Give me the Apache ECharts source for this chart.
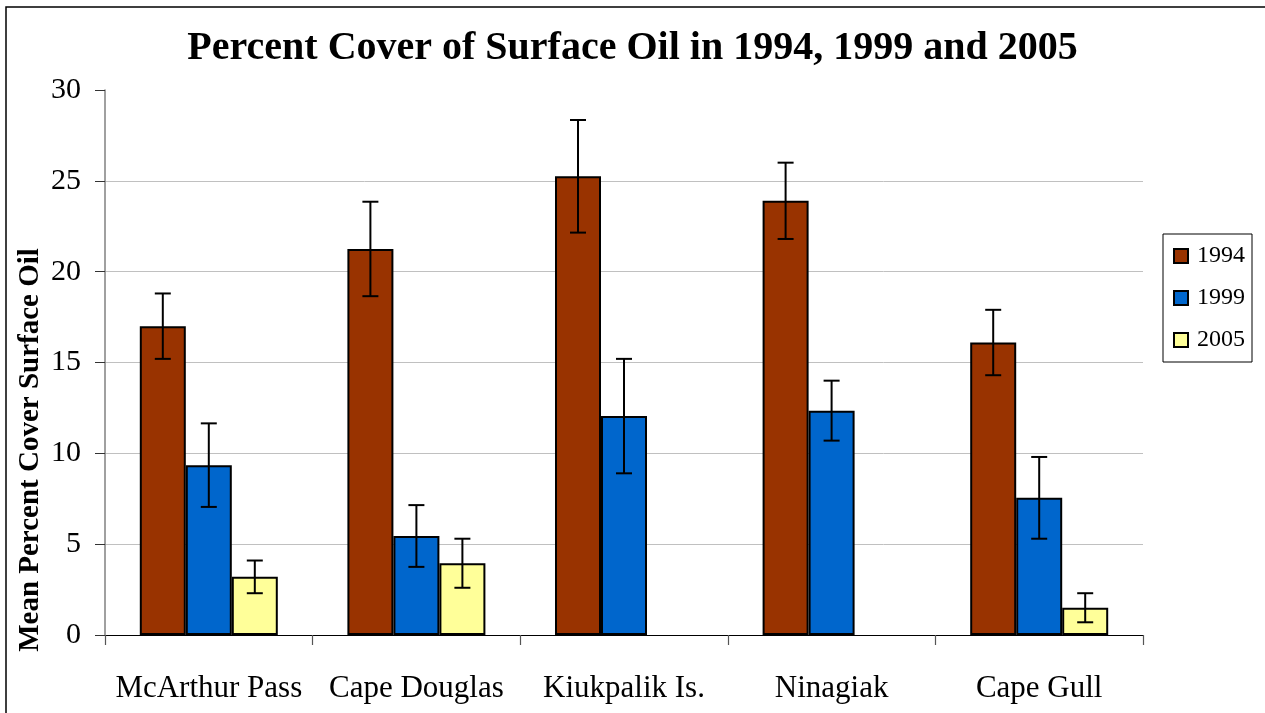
<!DOCTYPE html>
<html>
<head>
<meta charset="utf-8">
<script src="https://cdn.jsdelivr.net/npm/echarts@6/dist/echarts.min.js"></script>
<style>
  html, body { margin: 0; padding: 0; background: #fff; }
  #chart { width: 1265px; height: 713px; }
</style>
</head>
<body>
<div id="chart"></div>
<script>
// data
const categories = ['McArthur Pass', 'Cape Douglas', 'Kiukpalik Is.', 'Ninagiak', 'Cape Gull']
const years = ['1994', '1999', '2005']
const mean1994 = [17.0, 21.25, 25.25, 23.9, 16.1]
const err1994 = [1.8, 2.6, 3.1, 2.1, 1.8]
const mean1999 = [9.35, 5.45, 12.05, 12.35, 7.55]
const err1999 = [2.3, 1.7, 3.15, 1.65, 2.25]
const mean2005 = [3.2, 3.95, null, null, 1.5]
const err2005 = [0.9, 1.35, null, null, 0.8]
const yTicks = [0, 5, 10, 15, 20, 25, 30]

const serif = "'Liberation Serif', 'Times New Roman', serif"
const colors = ['#993300', '#0066CC', '#FFFF99']
const barW = 46

function barSeries (name, values, color) {
  return {
    name: name,
    type: 'bar',
    barWidth: barW,
    barGap: '0%',
    data: values.map(v => v == null ? '-' : v),
    itemStyle: { color: color, borderColor: '#000', borderWidth: 2 }
  }
}

function errorSeries (name, means, errs, slot) {
  const data = []
  means.forEach((m, i) => {
    if (m != null) data.push([i, m - errs[i], m + errs[i]])
  })
  return {
    name: name + ' err',
    type: 'custom',
    z: 5,
    silent: true,
    data: data,
    encode: { x: 0, y: [1, 2] },
    renderItem (params, api) {
      const lo = api.coord([api.value(0), api.value(1)])
      const hi = api.coord([api.value(0), api.value(2)])
      const x = lo[0] + slot * barW
      const cap = 8
      const style = { stroke: '#000', lineWidth: 2 }
      return {
        type: 'group',
        children: [
          { type: 'line', shape: { x1: x, y1: lo[1], x2: x, y2: hi[1] }, style: style },
          { type: 'line', shape: { x1: x - cap, y1: lo[1], x2: x + cap, y2: lo[1] }, style: style },
          { type: 'line', shape: { x1: x - cap, y1: hi[1], x2: x + cap, y2: hi[1] }, style: style }
        ]
      }
    }
  }
}

const chart = echarts.init(document.getElementById('chart'))
chart.setOption({
  animation: false,
  backgroundColor: '#fff',
  title: {
    text: 'Percent Cover of Surface Oil in 1994, 1999 and 2005',
    left: 'center',
    top: 24,
    textStyle: { fontFamily: serif, fontWeight: 'bold', fontSize: 40, color: '#000' }
  },
  graphic: [
    {
      type: 'rect',
      shape: { x: 6, y: 7, width: 1300, height: 800 },
      style: { fill: 'none', stroke: '#000', lineWidth: 1.5 }
    },
    {
      type: 'text',
      x: 31,
      y: 450,
      rotation: Math.PI / 2,
      style: {
        text: 'Mean Percent Cover Surface Oil',
        fontFamily: serif,
        fontWeight: 'bold',
        fontSize: 29,
        fill: '#000',
        align: 'center',
        verticalAlign: 'middle'
      }
    }
  ],
  legend: {
    data: years,
    orient: 'vertical',
    left: 1163,
    top: 234,
    padding: [10, 7, 10, 10],
    itemGap: 18,
    itemWidth: 14,
    itemHeight: 14,
    icon: 'rect',
    borderColor: '#000',
    borderWidth: 1,
    textStyle: { fontFamily: serif, fontSize: 24, color: '#000', padding: [0, 0, 0, 4] }
  },
  grid: { left: 105, right: 122, top: 90, bottom: 78 },
  xAxis: {
    type: 'category',
    data: categories,
    axisLine: { lineStyle: { color: '#000', width: 1.2 } },
    axisTick: { show: true, interval: 0, length: 10, lineStyle: { color: '#555', width: 1.2 } },
    axisLabel: { interval: 0, fontFamily: serif, fontSize: 31, color: '#000', margin: 38 }
  },
  yAxis: {
    type: 'value',
    min: yTicks[0],
    max: yTicks[yTicks.length - 1],
    interval: 5,
    axisLine: { show: true, lineStyle: { color: '#808080', width: 1.5 } },
    axisTick: { show: true, length: 10, lineStyle: { color: '#333' } },
    axisLabel: { fontFamily: serif, fontSize: 30, color: '#000', margin: 24 },
    splitLine: {
      lineStyle: {
        color: ['#c0c0c0', '#c0c0c0', '#c0c0c0', '#c0c0c0', '#c0c0c0', '#c0c0c0', 'rgba(0,0,0,0)'],
        width: 1
      }
    }
  },
  series: [
    barSeries(years[0], mean1994, colors[0]),
    barSeries(years[1], mean1999, colors[1]),
    barSeries(years[2], mean2005, colors[2]),
    errorSeries(years[0], mean1994, err1994, -1),
    errorSeries(years[1], mean1999, err1999, 0),
    errorSeries(years[2], mean2005, err2005, 1)
  ]
})
</script>
</body>
</html>
